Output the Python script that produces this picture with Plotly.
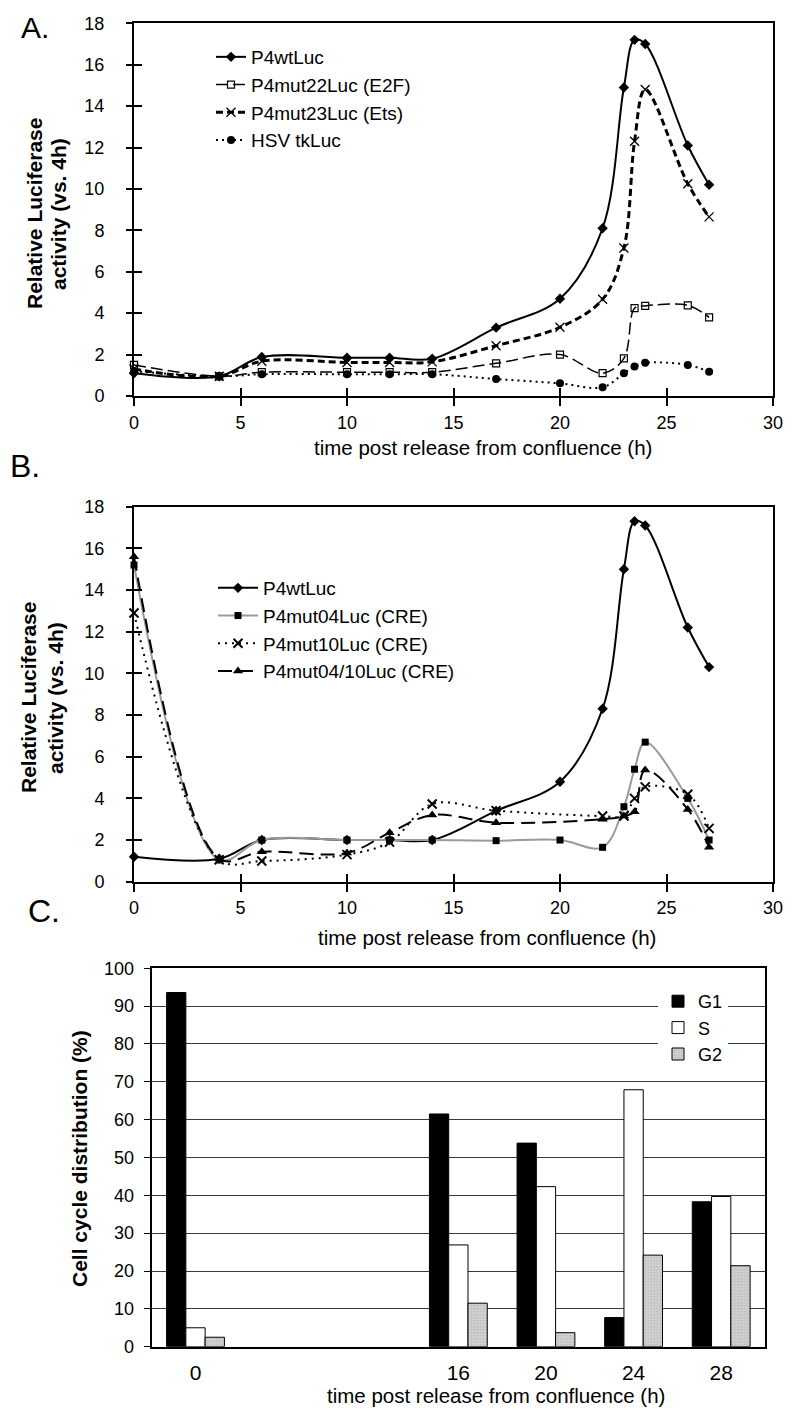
import plotly.graph_objects as go

# ---------------- data ----------------
# Panel A
A_time = [0, 4, 6, 10, 12, 14, 17, 20, 22, 23, 23.5, 24, 26, 27]
A_wt = [1.1, 0.95, 1.88, 1.85, 1.85, 1.8, 3.3, 4.7, 8.1, 14.9, 17.2, 17.0, 12.1, 10.2]
A_mut22 = [1.5, 0.95, 1.15, 1.15, 1.15, 1.15, 1.58, 2.0, 1.1, 1.82, 4.24, 4.35, 4.38, 3.8]
A_mut23 = [1.3, 0.95, 1.68, 1.62, 1.62, 1.65, 2.43, 3.32, 4.67, 7.15, 12.3, 14.8, 10.25, 8.65]
A_hsv = [1.2, 0.95, 1.05, 1.05, 1.05, 1.05, 0.82, 0.61, 0.42, 1.1, 1.42, 1.6, 1.5, 1.17]

# Panel B
B_time_full = [0, 4, 6, 10, 12, 14, 17, 20, 22, 23, 23.5, 24, 26, 27]
B_wt = [1.2, 1.1, 2.0, 2.0, 2.0, 2.0, 3.4, 4.8, 8.3, 15.0, 17.3, 17.1, 12.2, 10.3]
B_mut04 = [15.2, 1.05, 2.0, 2.0, 2.0, 2.0, 1.97, 2.0, 1.65, 3.6, 5.4, 6.7, 4.0, 2.0]
B_time_part = [0, 4, 6, 10, 12, 14, 17, 22, 23, 23.5, 24, 26, 27]
B_mut10 = [12.9, 1.05, 0.99, 1.3, 1.9, 3.73, 3.41, 3.15, 3.15, 4.0, 4.55, 4.2, 2.56]
B_mut0410 = [15.6, 1.1, 1.44, 1.38, 2.35, 3.2, 2.83, 3.0, 3.15, 3.36, 5.36, 3.47, 1.65]

# Panel C
C_slots = ["0", "gap1", "gap2", "16", "20", "24", "28"]
C_times = ["0", "16", "20", "24", "28"]
C_G1 = [93.6, 61.5, 53.8, 7.7, 38.3]
C_S = [5.0, 26.9, 42.3, 67.9, 39.7]
C_G2 = [2.5, 11.5, 3.7, 24.2, 21.4]

# page body has an 8px default margin; figure is sized to fill the rest
OFF = 8
W, H = 800 - OFF, 1417 - OFF
FONT = "Liberation Sans, Arial, sans-serif"


def px_x(v):
    return (v - OFF) / W


def px_y(v):
    return 1 - (v - OFF) / H


fig = go.Figure()

# ---------------- Panel A traces ----------------
fig.add_trace(go.Scatter(x=A_time, y=A_wt, name="P4wtLuc", mode="lines+markers",
                         line=dict(color="black", width=2, shape="spline", smoothing=1),
                         marker=dict(symbol="diamond", size=8, color="black"),
                         xaxis="x", yaxis="y", legend="legend", cliponaxis=False))
fig.add_trace(go.Scatter(x=A_time, y=A_mut22, name="P4mut22Luc (E2F)", mode="lines+markers",
                         line=dict(color="black", width=1.5, dash="12px,5px", shape="spline", smoothing=1),
                         marker=dict(symbol="square-open", size=7, color="black", line=dict(width=1.2)),
                         xaxis="x", yaxis="y", legend="legend", cliponaxis=False))
fig.add_trace(go.Scatter(x=A_time, y=A_mut23, name="P4mut23Luc (Ets)", mode="lines+markers",
                         line=dict(color="black", width=3, dash="7px,4px", shape="spline", smoothing=1),
                         marker=dict(symbol="x-thin", size=9, color="black", line=dict(width=1.3, color="black")),
                         xaxis="x", yaxis="y", legend="legend", cliponaxis=False))
fig.add_trace(go.Scatter(x=A_time, y=A_hsv, name="HSV tkLuc", mode="lines+markers",
                         line=dict(color="black", width=2, dash="2px,4px", shape="spline", smoothing=1),
                         marker=dict(symbol="circle", size=8, color="black"),
                         xaxis="x", yaxis="y", legend="legend", cliponaxis=False))

# ---------------- Panel B traces ----------------
fig.add_trace(go.Scatter(x=B_time_full, y=B_wt, name="P4wtLuc", mode="lines+markers",
                         line=dict(color="black", width=2, shape="spline", smoothing=1),
                         marker=dict(symbol="diamond", size=8, color="black"),
                         xaxis="x2", yaxis="y2", legend="legend2", cliponaxis=False))
fig.add_trace(go.Scatter(x=B_time_full, y=B_mut04, name="P4mut04Luc (CRE)", mode="lines+markers",
                         line=dict(color="#9a9a9a", width=2, shape="spline", smoothing=1),
                         marker=dict(symbol="square", size=7, color="black"),
                         xaxis="x2", yaxis="y2", legend="legend2", cliponaxis=False))
fig.add_trace(go.Scatter(x=B_time_part, y=B_mut10, name="P4mut10Luc (CRE)", mode="lines+markers",
                         line=dict(color="black", width=2, dash="2px,5px", shape="spline", smoothing=1),
                         marker=dict(symbol="x-thin", size=9, color="black", line=dict(width=2, color="black")),
                         xaxis="x2", yaxis="y2", legend="legend2", cliponaxis=False))
fig.add_trace(go.Scatter(x=B_time_part, y=B_mut0410, name="P4mut04/10Luc (CRE)", mode="lines+markers",
                         line=dict(color="black", width=2, dash="14px,7px", shape="spline", smoothing=1),
                         marker=dict(symbol="triangle-up", size=9, color="black"),
                         xaxis="x2", yaxis="y2", legend="legend2", cliponaxis=False))

# ---------------- Panel C traces ----------------
fig.add_trace(go.Bar(x=C_times, y=C_G1, name="G1", marker=dict(color="black", line=dict(color="black", width=1)),
                     xaxis="x3", yaxis="y3", legend="legend3"))
fig.add_trace(go.Bar(x=C_times, y=C_S, name="S", marker=dict(color="white", line=dict(color="black", width=1)),
                     xaxis="x3", yaxis="y3", legend="legend3"))
fig.add_trace(go.Bar(x=C_times, y=C_G2, name="G2",
                     marker=dict(color="#c8c8c8", line=dict(color="black", width=1),
                                 pattern=dict(shape=".", fgcolor="#8a8a8a", bgcolor="#d2d2d2", size=3, solidity=0.25)),
                     xaxis="x3", yaxis="y3", legend="legend3"))

# dummy traces for crossing-tick overlay axes
fig.add_trace(go.Scatter(x=[None], y=[None], xaxis="x4", yaxis="y4", showlegend=False, hoverinfo="skip"))
fig.add_trace(go.Scatter(x=[None], y=[None], xaxis="x5", yaxis="y5", showlegend=False, hoverinfo="skip"))

# ---------------- layout ----------------
dxA = [px_x(134), px_x(773)]
dyA = [px_y(396), px_y(23.3)]
dyB = [px_y(881.7), px_y(506.7)]
dxC = [px_x(151.7), px_x(765)]
dyC = [px_y(1346.7), px_y(968.3)]

tickfont = dict(family=FONT, size=18, color="black")

common_x = dict(range=[0, 30], dtick=5, tick0=0, showline=True, linecolor="black", linewidth=2,
                mirror=True, ticks="outside", ticklen=8, tickwidth=2, tickcolor="black",
                showgrid=False, zeroline=False, tickfont=tickfont, ticklabelstandoff=1, automargin=False)
common_y = dict(range=[0, 18], dtick=2, tick0=0, showline=True, linecolor="black", linewidth=2,
                mirror=True, ticks="outside", ticklen=6, tickwidth=2, tickcolor="black",
                showgrid=False, zeroline=False, tickfont=tickfont, ticklabelstandoff=18, automargin=False)
over_x = dict(range=[0, 30], dtick=5, tick0=0, showline=False, ticks="inside", ticklen=8, tickwidth=2,
              tickcolor="black", showticklabels=False, showgrid=False, zeroline=False, automargin=False)
over_y = dict(range=[0, 18], dtick=2, tick0=0, showline=False, ticks="inside", ticklen=8, tickwidth=2,
              tickcolor="black", showticklabels=False, showgrid=False, zeroline=False, automargin=False)

legend_font = dict(family=FONT, size=19, color="black")

fig.update_layout(
    width=W, height=H,
    margin=dict(l=0, r=0, t=0, b=0, autoexpand=False),
    paper_bgcolor="white", plot_bgcolor="white",
    font=dict(family=FONT, color="black"),
    xaxis=dict(domain=dxA, anchor="y", **common_x),
    yaxis=dict(domain=dyA, anchor="x", **common_y),
    xaxis2=dict(domain=dxA, anchor="y2", **common_x),
    yaxis2=dict(domain=dyB, anchor="x2", **common_y),
    xaxis4=dict(domain=dxA, anchor="y4", overlaying="x", **over_x),
    yaxis4=dict(domain=dyA, anchor="x4", overlaying="y", **over_y),
    xaxis5=dict(domain=dxA, anchor="y5", overlaying="x2", **over_x),
    yaxis5=dict(domain=dyB, anchor="x5", overlaying="y2", **over_y),
    xaxis3=dict(domain=dxC, anchor="y3", type="category", categoryorder="array", categoryarray=C_slots,
                range=[-0.5, len(C_slots) - 0.5], tickmode="array", tickvals=C_times, ticktext=C_times,
                showline=True, linecolor="black", linewidth=2, mirror=True, ticks="",
                showgrid=False, tickfont=dict(family=FONT, size=21, color="black"), ticklabelstandoff=6,
                automargin=False),
    yaxis3=dict(domain=dyC, anchor="x3", range=[0, 100], dtick=10, tick0=0,
                showline=True, linecolor="black", linewidth=2, mirror=True,
                ticks="outside", ticklen=6, tickwidth=1, tickcolor="black",
                showgrid=True, gridcolor="#3a3a3a", gridwidth=1, zeroline=False,
                tickfont=tickfont, ticklabelstandoff=6, automargin=False),
    barmode="group", bargap=0.34, bargroupgap=0,
    legend=dict(x=px_x(211), y=px_y(38), xanchor="left", yanchor="top", bgcolor="rgba(0,0,0,0)",
                font=legend_font, tracegroupgap=0, itemwidth=30),
    legend2=dict(x=px_x(213), y=px_y(569), xanchor="left", yanchor="top", bgcolor="rgba(0,0,0,0)",
                 font=legend_font, tracegroupgap=0, itemwidth=40),
    legend3=dict(x=px_x(658), y=px_y(983), xanchor="left", yanchor="top", bgcolor="white",
                 font=dict(family=FONT, size=18, color="black"), tracegroupgap=0, itemwidth=30),
    showlegend=True,
)

title_font = dict(family=FONT, size=20.5, color="black")
ytitle_font = dict(family=FONT, size=21, color="black")

annotations = [
    dict(text="A.", x=px_x(19), y=px_y(27), xanchor="left", yanchor="middle", font=dict(family=FONT, size=30)),
    dict(text="B.", x=px_x(8), y=px_y(466), xanchor="left", yanchor="middle", font=dict(family=FONT, size=32)),
    dict(text="C.", x=px_x(26), y=px_y(911), xanchor="left", yanchor="middle", font=dict(family=FONT, size=32)),
    dict(text="time post release from confluence (h)", x=px_x(483), y=px_y(447), xanchor="center",
         yanchor="middle", font=title_font),
    dict(text="time post release from confluence (h)", x=px_x(487), y=px_y(937), xanchor="center",
         yanchor="middle", font=title_font),
    dict(text="time post release from confluence (h)", x=px_x(496), y=px_y(1395), xanchor="center",
         yanchor="middle", font=title_font),
    dict(text="<b>Relative Luciferase</b>", x=px_x(34), y=px_y(214), textangle=-90,
         xanchor="center", yanchor="middle", font=ytitle_font),
    dict(text="<b>activity (vs. 4h)</b>", x=px_x(58), y=px_y(214), textangle=-90,
         xanchor="center", yanchor="middle", font=ytitle_font),
    dict(text="<b>Relative Luciferase</b>", x=px_x(28), y=px_y(698), textangle=-90,
         xanchor="center", yanchor="middle", font=ytitle_font),
    dict(text="<b>activity (vs. 4h)</b>", x=px_x(55), y=px_y(698), textangle=-90,
         xanchor="center", yanchor="middle", font=ytitle_font),
    dict(text="<b>Cell cycle distribution (%)</b>", x=px_x(79), y=px_y(1159), textangle=-90,
         xanchor="center", yanchor="middle", font=ytitle_font),
]
for a in annotations:
    a.update(xref="paper", yref="paper", showarrow=False)
fig.update_layout(annotations=annotations)

fig.write_html("out.html")
